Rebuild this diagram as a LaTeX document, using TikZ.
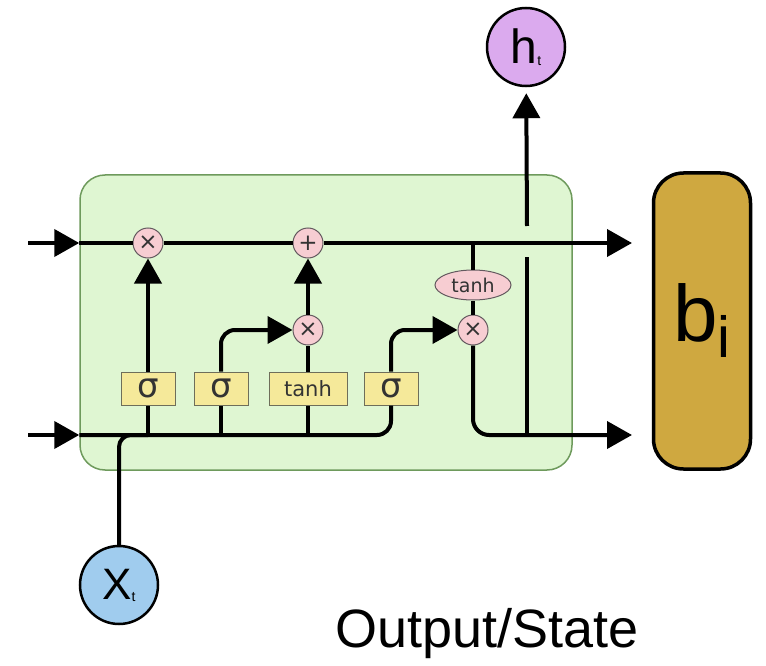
\documentclass[tikz,border=0pt]{standalone}
\usepackage{fontspec}
\setmainfont{Liberation Sans}
\newfontfamily\gatefont{DejaVu Sans}
\usepackage{tikz}
\usetikzlibrary{arrows.meta,positioning,calc,shapes.geometric}
\definecolor{cellgreen}{RGB}{223,246,210}
\definecolor{celledge}{RGB}{110,154,92}
\definecolor{gateyellow}{RGB}{245,233,154}
\definecolor{gateedge}{RGB}{110,110,90}
\definecolor{oppink}{RGB}{247,205,210}
\definecolor{opedge}{RGB}{100,90,95}
\definecolor{hpurple}{RGB}{219,170,238}
\definecolor{xblue}{RGB}{160,204,238}
\definecolor{bgold}{RGB}{207,168,64}
\begin{document}
\begin{tikzpicture}[
    x={(1pt,0)}, y={(0,-1pt)},
    cell/.style={rectangle, draw=celledge, line width=1.5pt, fill=cellgreen, rounded corners=25pt, minimum width=492pt, minimum height=295pt},
    gate/.style={rectangle, draw=gateedge, line width=1pt, fill=gateyellow, text=black!80, minimum width=54pt, minimum height=33pt, inner sep=0pt, font=\gatefont\fontsize{34}{34}\selectfont},
    op/.style={circle, draw=opedge, line width=1pt, fill=oppink, text=black!80, minimum size=30pt, inner sep=0pt, font=\gatefont\fontsize{23}{23}\selectfont},
    vec/.style={circle, draw=black, line width=2.5pt, minimum size=78pt, inner sep=0pt},
    wire/.style={line width=4pt},
    arrow/.style={line width=4pt, -{Triangle[length=25pt, width=27pt]}}
]
    \useasboundingbox (0,0) rectangle (766,666);
    \node[cell] (cell) at (326,322.5) {};

    \coordinate (cin) at (28,243);
    \coordinate (hin) at (28,435);
    \coordinate (cout) at (632,243);
    \coordinate (hout) at (632,435);
    \coordinate (gapb) at (527,257);
    \coordinate (gapt) at (527,226);

    \node[op] (fx) at (148,243) {×};
    \node[op] (ip) at (308,243) {+};
    \node[op] (im) at (308,330) {×};
    \node[op] (ox) at (473,330) {×};
    \node[op, ellipse, minimum width=76pt, minimum height=30pt, font=\gatefont\fontsize{19}{19}\selectfont] (tn) at (473,285) {tanh};

    \node[gate] (sg1) at (148,388.5) {σ};
    \node[gate] (sg2) at (221,388.5) {σ};
    \node[gate, minimum width=78pt, font=\gatefont\fontsize{21}{21}\selectfont] (th) at (308,388.5) {tanh};
    \node[gate] (sg4) at (391,388.5) {σ};

    \node[vec, fill=hpurple, font=\fontsize{48}{48}\selectfont] (ht) at (526,47) {h\raisebox{-2pt}{\fontsize{14}{14}\selectfont t}};
    \node[vec, fill=xblue, font=\fontsize{44}{44}\selectfont] (xt) at (119,585) {X\raisebox{-2pt}{\fontsize{14}{14}\selectfont t}};
    \node[rectangle, draw=black, line width=3.5pt, fill=bgold, rounded corners=30pt, minimum width=97pt, minimum height=296pt, font=\fontsize{80}{80}\selectfont] (bi) at (702,321) {b\raisebox{-16pt}{\fontsize{58}{58}\selectfont i}};
    \node[font=\fontsize{54}{54}\selectfont] (lbl) at (487,634) {Output/State};

    \draw[arrow] (cin) -- (cin -| cell.west);
    \draw[wire] (cin -| cell.west) -- (fx);
    \draw[wire] (fx) -- (ip);
    \draw[arrow] (ip) -- (cout);

    \draw[arrow] (hin) -- (hin -| cell.west);
    \draw[wire, rounded corners=14pt] (hin -| cell.west) -- (hin -| sg4) -- (sg4);
    \draw[wire, rounded corners=12pt] (xt) |- (sg1 |- hin);

    \draw[wire] (sg1 |- hin) -- (sg1);
    \draw[wire] (sg2 |- hin) -- (sg2);
    \draw[wire] (th |- hin) -- (th);

    \draw[arrow] (sg1) -- (fx);
    \draw[arrow, rounded corners=14pt] (sg2) |- (im);
    \draw[wire] (th) -- (im);
    \draw[arrow] (im) -- (ip);
    \draw[arrow, rounded corners=14pt] (sg4) |- (ox);

    \draw[wire] (ox |- cin) -- (tn);
    \draw[wire] (tn) -- (ox);
    \draw[arrow, rounded corners=16pt] (ox) |- (hout);

    \draw[wire] (gapb |- hout) -- (gapb);
    \draw[arrow, shorten >=6pt] (gapt) -- (ht);
\end{tikzpicture}
\end{document}
